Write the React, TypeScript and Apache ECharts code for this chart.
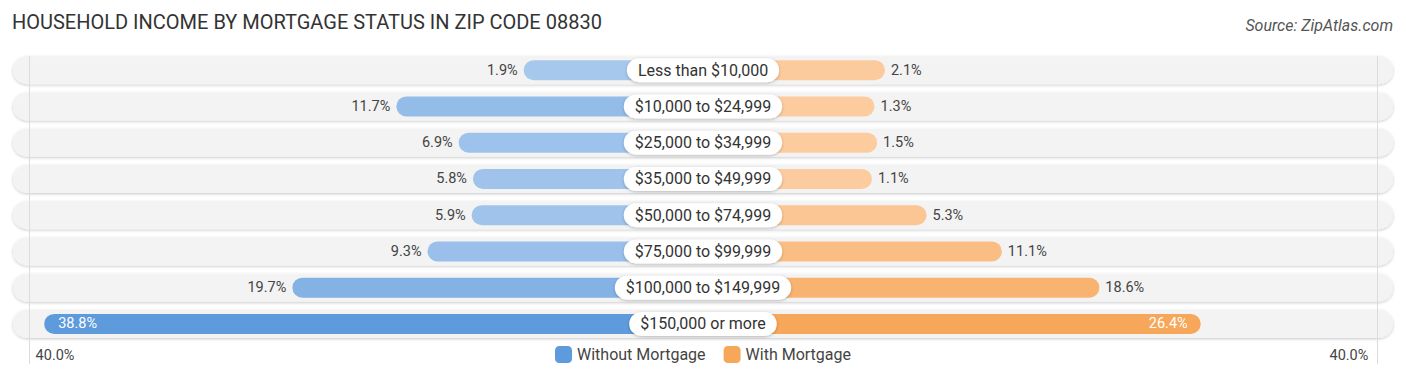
import React, { useEffect, useRef } from "react";
import * as echarts from "echarts";

const categories = [
  "Less than $10,000",
  "$10,000 to $24,999",
  "$25,000 to $34,999",
  "$35,000 to $49,999",
  "$50,000 to $74,999",
  "$75,000 to $99,999",
  "$100,000 to $149,999",
  "$150,000 or more",
];
const withoutMortgage = [1.9, 11.7, 6.9, 5.8, 5.9, 9.3, 19.7, 38.8];
const withMortgage = [2.1, 1.3, 1.5, 1.1, 5.3, 11.1, 18.6, 26.4];
const axisTickValues = [-40, 40];
const axisTickLabels = ["40.0%", "40.0%"];

const TITLE = "HOUSEHOLD INCOME BY MORTGAGE STATUS IN ZIP CODE 08830";
const SOURCE = "Source: ZipAtlas.com";

// half-width (in % units) of the central label region where bars begin
const OFFSET = 11.9;
const AXIS_MAX = 53.1;
const FONT = "Roboto, 'Noto Sans', sans-serif";

function mix(a: string, b: string, t: number) {
  const pa = [1, 3, 5].map((i) => parseInt(a.slice(i, i + 2), 16));
  const pb = [1, 3, 5].map((i) => parseInt(b.slice(i, i + 2), 16));
  const c = pa.map((v, i) => Math.round(v + (pb[i] - v) * t));
  return "rgb(" + c.join(",") + ")";
}

const BLUE_LIGHT = "#abcaee";
const BLUE_DARK = "#5e9bdc";
const ORANGE_LIGHT = "#fccea3";
const ORANGE_DARK = "#f7a75a";

export default function App() {
  const ref = useRef<HTMLDivElement>(null);
  useEffect(() => {
    if (!ref.current) return;
    const chart = echarts.init(ref.current, null, { renderer: "svg" });
    const maxL = Math.max(...withoutMortgage);
    const maxR = Math.max(...withMortgage);
    const INSIDE = 25;
    const GRID_LEFT = 13;
    const GRID_RIGHT = 13;
    const gridWidth = 1406 - GRID_LEFT - GRID_RIGHT;

    const leftData = withoutMortgage.map((v) => {
      const inside = v >= INSIDE;
      return {
        value: -(OFFSET + v),
        itemStyle: { color: mix(BLUE_LIGHT, BLUE_DARK, v / maxL) },
        label: inside
          ? { position: "insideLeft", color: "#fff", distance: 14 }
          : { position: "left", color: "#444", distance: 6 },
      };
    });
    const rightData = withMortgage.map((v) => {
      const inside = v >= INSIDE;
      return {
        value: OFFSET + v,
        itemStyle: { color: mix(ORANGE_LIGHT, ORANGE_DARK, v / maxR) },
        label: inside
          ? { position: "insideRight", color: "#fff", distance: 13 }
          : { position: "right", color: "#444", distance: 6 },
      };
    });

    const option: any = {
      animation: false,
      textStyle: { fontFamily: FONT },
      title: [
        {
          text: TITLE,
          left: 7,
          top: 7,
          textStyle: { fontFamily: FONT, fontSize: 20, fontWeight: 400, color: "#333" },
        },
        {
          text: SOURCE,
          right: 8,
          top: 12,
          textStyle: { fontFamily: FONT, fontSize: 16, fontWeight: 400, fontStyle: "italic", color: "#555" },
        },
      ],
      legend: {
        bottom: 10,
        left: "center",
        itemWidth: 17,
        itemHeight: 17,
        itemGap: 18,
        icon: "roundRect",
        data: ["Without Mortgage", "With Mortgage"],
        textStyle: { fontFamily: FONT, fontSize: 16, color: "#444" },
      },
      grid: { left: GRID_LEFT, right: GRID_RIGHT, top: 52, height: 290 },
      xAxis: {
        type: "value",
        min: -AXIS_MAX,
        max: AXIS_MAX,
        show: false,
      },
      yAxis: [
        {
          type: "category",
          data: categories,
          inverse: true,
          position: "left",
          offset: -gridWidth / 2,
          z: 10,
          axisLine: { show: false },
          axisTick: { show: false },
          splitLine: { show: false },
          axisLabel: {
            show: true,
            align: "center",
            margin: 0,
            fontFamily: FONT,
            fontSize: 16,
            color: "#333",
            backgroundColor: "#fff",
            borderRadius: 12,
            padding: [3, 11, 3, 11],
            lineHeight: 18,
            shadowColor: "rgba(0,0,0,0.25)",
            shadowBlur: 3,
            shadowOffsetY: 1,
          },
        },
        { type: "category", data: categories, inverse: true, show: false },
      ],
      series: [
        {
          type: "bar",
          name: "bg",
          yAxisIndex: 1,
          barWidth: 28,
          data: categories.map(() => 0),
          itemStyle: { color: "transparent" },
          showBackground: true,
          backgroundStyle: {
            color: "#f3f3f3",
            borderRadius: 14,
            shadowColor: "rgba(0,0,0,0.22)",
            shadowBlur: 3,
            shadowOffsetY: 1,
          },
          silent: true,
          z: 1,
        },
        {
          type: "bar",
          name: "Without Mortgage",
          yAxisIndex: 0,
          barWidth: 20,
          barGap: "-100%",
          itemStyle: { color: BLUE_DARK, borderRadius: 10 },
          data: leftData,
          label: {
            show: true,
            fontSize: 14.5,
            fontFamily: FONT,
            formatter: (p: any) => withoutMortgage[p.dataIndex].toFixed(1) + "%",
          },
          z: 2,
        },
        {
          type: "bar",
          name: "With Mortgage",
          yAxisIndex: 0,
          barWidth: 20,
          barGap: "-100%",
          itemStyle: { color: ORANGE_DARK, borderRadius: 10 },
          data: rightData,
          label: {
            show: true,
            fontSize: 14.5,
            fontFamily: FONT,
            formatter: (p: any) => withMortgage[p.dataIndex].toFixed(1) + "%",
          },
          z: 2,
        },
      ],
    };
    chart.setOption(option);

    const graphics: any[] = [];
    axisTickValues.forEach((t, i) => {
      const val = t < 0 ? t - OFFSET : t + OFFSET;
      const x = chart.convertToPixel({ xAxisIndex: 0 }, val) as number;
      graphics.push({
        type: "line",
        z: 10,
        silent: true,
        shape: { x1: Math.round(x) + 0.5, y1: 56, x2: Math.round(x) + 0.5, y2: 364 },
        style: { stroke: "#dcdcdc", lineWidth: 1 },
      });
      graphics.push({
        type: "text",
        z: 10,
        x: t < 0 ? x + 7 : x - 9,
        y: 355,
        style: {
          text: axisTickLabels[i],
          fontFamily: FONT,
          fontSize: 14.5,
          fill: "#444",
          align: t < 0 ? "left" : "right",
          verticalAlign: "middle",
        },
      });
    });
    chart.setOption({ graphic: graphics });

    return () => chart.dispose();
  }, []);
  return (
    <div
      ref={ref}
      style={{ position: "absolute", left: 0, top: 0, width: 1406, height: 378 }}
    />
  );
}
